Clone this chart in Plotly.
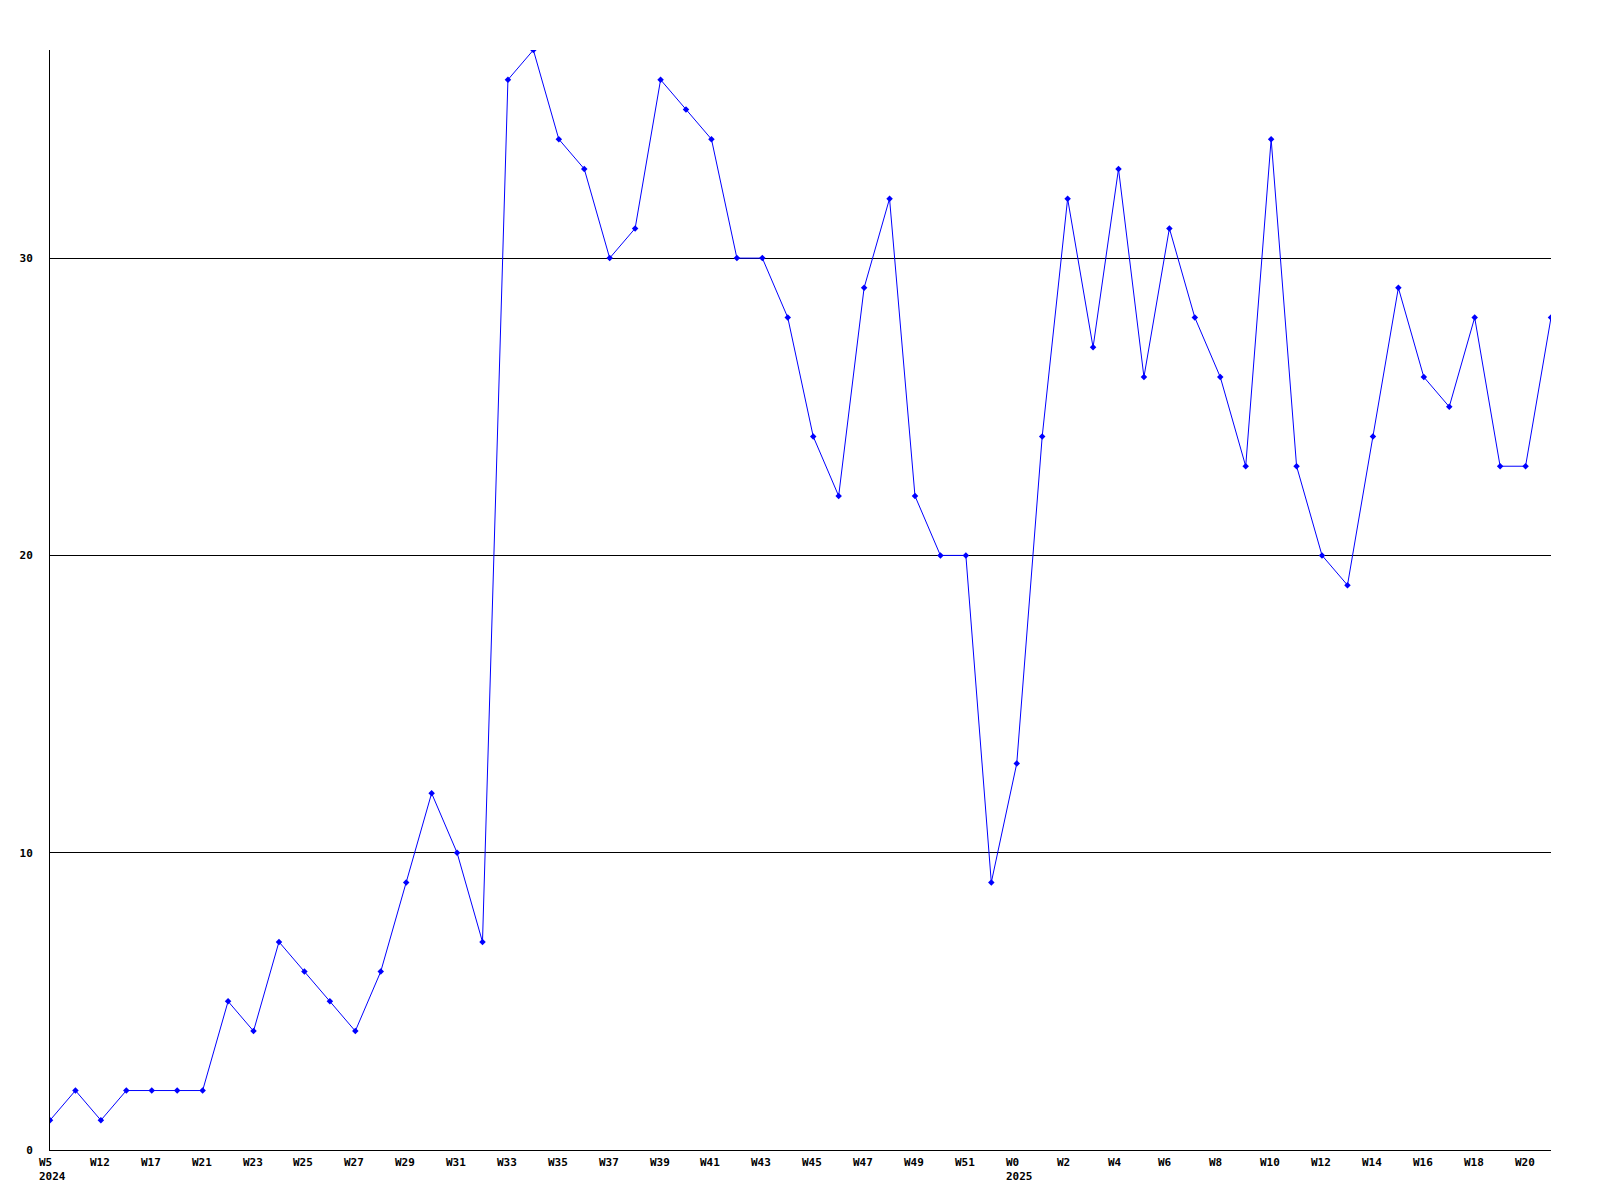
import plotly.graph_objects as go

week_labels = ["W5", "W12", "W17", "W21", "W23", "W25", "W27", "W29", "W31", "W33",
               "W35", "W37", "W39", "W41", "W43", "W45", "W47", "W49", "W51", "W0",
               "W2", "W4", "W6", "W8", "W10", "W12", "W14", "W16", "W18", "W20"]
year_labels = {0: "2024", 38: "2025"}
values = [1, 2, 1, 2, 2, 2, 2, 5, 4, 7,
          6, 5, 4, 6, 9, 12, 10, 7, 36, 37,
          34, 33, 30, 31, 36, 35, 34, 30, 30, 28,
          24, 22, 29, 32, 22, 20, 20, 9, 13, 24,
          32, 27, 33, 26, 31, 28, 26, 23, 34, 23,
          20, 19, 24, 29, 26, 25, 28, 23, 23, 28]
y_ticks = [0, 10, 20, 30]

x = list(range(len(values)))
font = dict(family="DejaVu Sans Mono", size=11, color="black")

fig = go.Figure()
fig.add_trace(go.Scatter(
    x=x, y=values, mode="lines+markers",
    line=dict(color="#0000ff", width=1),
    marker=dict(symbol="diamond", size=5, color="#0000ff"),
    showlegend=False, hoverinfo="skip",
))

annotations = []
for i, lab in enumerate(week_labels):
    annotations.append(dict(x=2 * i, y=0, xref="x", yref="paper", text="<b>" + lab + "</b>",
                            showarrow=False, xanchor="left", yanchor="top",
                            xshift=-13, yshift=-4, font=font))
for idx, yr in year_labels.items():
    annotations.append(dict(x=idx, y=0, xref="x", yref="paper", text="<b>" + yr + "</b>",
                            showarrow=False, xanchor="left", yanchor="top",
                            xshift=-13, yshift=-18, font=font))

fig.update_layout(
    width=1584, height=1184,
    margin=dict(l=42, r=41, t=42, b=42),
    paper_bgcolor="white", plot_bgcolor="white",
    xaxis=dict(range=[0, len(values) - 1], showgrid=False, zeroline=False,
               showline=True, linecolor="black", linewidth=1,
               showticklabels=False, ticks=""),
    yaxis=dict(range=[0, 37], tickvals=y_ticks, ticktext=["<b>%d</b>" % v for v in y_ticks],
               showgrid=True, gridcolor="black", gridwidth=1, zeroline=False,
               showline=True, linecolor="black", linewidth=1, ticks="",
               ticklabelstandoff=14, tickfont=font),
    annotations=annotations,
)
fig.write_html("out.html")
